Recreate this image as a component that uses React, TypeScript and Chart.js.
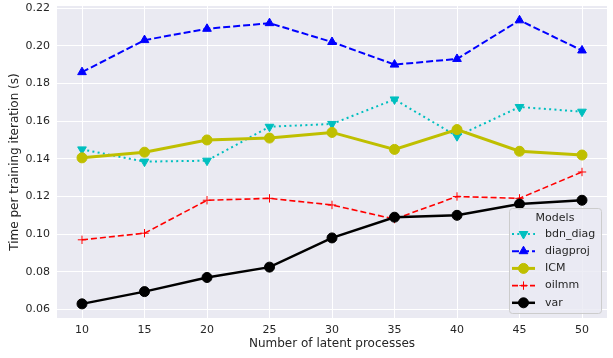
import React, { useEffect, useRef } from "react";
import { Chart, registerables } from "chart.js";

Chart.register(...registerables);

const latentProcesses = [10, 15, 20, 25, 30, 35, 40, 45, 50];
const bdnDiag = [0.145, 0.1385, 0.139, 0.157, 0.1585, 0.1715, 0.152, 0.1675, 0.165];
const diagproj = [0.186, 0.203, 0.209, 0.212, 0.202, 0.190, 0.193, 0.2135, 0.1975];
const icm = [0.1405, 0.1435, 0.150, 0.151, 0.154, 0.145, 0.1555, 0.144, 0.142];
const oilmm = [0.097, 0.1005, 0.118, 0.119, 0.1155, 0.108, 0.120, 0.119, 0.133];
const varModel = [0.063, 0.0695, 0.077, 0.0825, 0.098, 0.109, 0.110, 0.116, 0.118];

const xTicks = [10, 15, 20, 25, 30, 35, 40, 45, 50];
const yTicks = [0.06, 0.08, 0.1, 0.12, 0.14, 0.16, 0.18, 0.2, 0.22];

const legendTitle = "Models";
const xTitle = "Number of latent processes";
const yTitle = "Time per training iteration (s)";

const TEXT = "#262626";
const FONT = "DejaVu Sans";

type Spec = {
  label: string;
  data: number[];
  color: string;
  dash: number[];
  width: number;
  style: string;
  radius: number;
  rotation: number;
};

const specs: Spec[] = [
  { label: "bdn_diag", data: bdnDiag, color: "#00BFBF", dash: [2, 3.3], width: 2, style: "triangle", radius: 5, rotation: 180 },
  { label: "diagproj", data: diagproj, color: "#0000FF", dash: [7, 3], width: 2, style: "triangle", radius: 5, rotation: 0 },
  { label: "ICM", data: icm, color: "#BFBF00", dash: [], width: 3, style: "circle", radius: 5, rotation: 0 },
  { label: "oilmm", data: oilmm, color: "#FF0000", dash: [6, 3], width: 1.6, style: "cross", radius: 4.2, rotation: 0 },
  { label: "var", data: varModel, color: "#000000", dash: [], width: 2.5, style: "circle", radius: 5, rotation: 0 },
];

function drawMarker(ctx: CanvasRenderingContext2D, s: Spec, x: number, y: number) {
  ctx.save();
  ctx.fillStyle = s.color;
  ctx.strokeStyle = s.color;
  ctx.setLineDash([]);
  ctx.lineWidth = 1;
  const r = s.radius;
  ctx.beginPath();
  if (s.style === "circle") {
    ctx.arc(x, y, r, 0, Math.PI * 2);
    ctx.fill();
    ctx.stroke();
  } else if (s.style === "triangle") {
    let rad = (s.rotation * Math.PI) / 180;
    ctx.moveTo(x + Math.sin(rad) * r, y - Math.cos(rad) * r);
    rad += (2 * Math.PI) / 3;
    ctx.lineTo(x + Math.sin(rad) * r, y - Math.cos(rad) * r);
    rad += (2 * Math.PI) / 3;
    ctx.lineTo(x + Math.sin(rad) * r, y - Math.cos(rad) * r);
    ctx.closePath();
    ctx.fill();
    ctx.stroke();
  } else if (s.style === "cross") {
    ctx.moveTo(x - r, y);
    ctx.lineTo(x + r, y);
    ctx.moveTo(x, y - r);
    ctx.lineTo(x, y + r);
    ctx.stroke();
  }
  ctx.restore();
}

const bgPlugin = {
  id: "bgPlugin",
  beforeDraw(chart: any) {
    const { ctx, chartArea, width, height } = chart;
    ctx.save();
    ctx.fillStyle = "#FFFFFF";
    ctx.fillRect(0, 0, width, height);
    ctx.fillStyle = "#EAEAF2";
    ctx.fillRect(chartArea.left, chartArea.top, chartArea.right - chartArea.left, chartArea.bottom - chartArea.top);
    ctx.restore();
  },
};

const legendPlugin = {
  id: "innerLegend",
  afterDraw(chart: any) {
    const { ctx, chartArea } = chart;
    const w = 92;
    const h = 105;
    const left = chartArea.right - 6 - w;
    const top = chartArea.bottom - 5 - h;
    ctx.save();
    ctx.beginPath();
    if (ctx.roundRect) ctx.roundRect(left + 0.5, top + 0.5, w, h, 3);
    else ctx.rect(left + 0.5, top + 0.5, w, h);
    ctx.fillStyle = "rgba(234,234,242,0.8)";
    ctx.fill();
    ctx.strokeStyle = "#CCCCCC";
    ctx.lineWidth = 1;
    ctx.stroke();
    ctx.font = `11px "${FONT}"`;
    ctx.fillStyle = TEXT;
    ctx.textAlign = "center";
    ctx.textBaseline = "middle";
    ctx.fillText(legendTitle, left + w / 2, top + 10);
    specs.forEach((s, i) => {
      const y = top + 26 + i * 17.2;
      ctx.save();
      ctx.strokeStyle = s.color;
      ctx.lineWidth = s.width;
      ctx.setLineDash(s.dash);
      ctx.beginPath();
      ctx.moveTo(left + 3, y);
      ctx.lineTo(left + 26, y);
      ctx.stroke();
      ctx.restore();
      drawMarker(ctx, s, left + 14.5, y);
      ctx.fillStyle = TEXT;
      ctx.textAlign = "left";
      ctx.fillText(s.label, left + 36, y);
    });
    ctx.restore();
  },
};

export default function App() {
  const ref = useRef<HTMLCanvasElement>(null);
  useEffect(() => {
    if (!ref.current) return;
    Chart.defaults.font.family = FONT;
    const n = specs.length;
    const chart = new Chart(ref.current, {
      type: "line",
      data: {
        datasets: specs.map((s, i) => ({
          label: s.label,
          data: s.data.map((v, j) => ({ x: latentProcesses[j], y: v })),
          borderColor: s.color,
          backgroundColor: s.color,
          borderWidth: s.width,
          borderDash: s.dash,
          pointStyle: s.style as any,
          pointRadius: s.radius,
          pointRotation: s.rotation,
          pointBorderWidth: 1,
          pointBackgroundColor: s.color,
          pointBorderColor: s.color,
          tension: 0,
          fill: false,
          order: n - 1 - i,
        })),
      },
      options: {
        animation: false,
        responsive: true,
        maintainAspectRatio: false,
        layout: { padding: { top: 4, right: 3, left: 0, bottom: 0 } },
        plugins: {
          legend: { display: false },
          tooltip: { enabled: false },
        },
        scales: {
          x: {
            type: "linear",
            min: 8,
            max: 52,
            afterBuildTicks: (scale: any) => {
              scale.ticks = xTicks.map((v) => ({ value: v }));
            },
            afterFit: (scale: any) => {
              scale.height = 40;
              scale.paddingLeft = 0;
              scale.paddingRight = 0;
              scale.paddingTop = 0;
              scale.paddingBottom = 0;
            },
            grid: { color: "#FFFFFF", lineWidth: 1, drawTicks: false },
            border: { display: false },
            ticks: { color: TEXT, font: { size: 11 }, padding: 6, autoSkip: false, maxRotation: 0, callback: (v: any) => String(v) },
            title: { display: true, text: xTitle, color: TEXT, font: { size: 12 }, padding: { top: 0, bottom: 6.5 } },
          },
          y: {
            type: "linear",
            min: 0.0555,
            max: 0.2211,
            afterBuildTicks: (scale: any) => {
              scale.ticks = yTicks.map((v) => ({ value: v }));
            },
            afterFit: (scale: any) => {
              scale.width = 57;
              scale.paddingLeft = 0;
              scale.paddingRight = 0;
              scale.paddingTop = 0;
              scale.paddingBottom = 0;
            },
            grid: { color: "#FFFFFF", lineWidth: 1, drawTicks: false },
            border: { display: false },
            ticks: { color: TEXT, font: { size: 11 }, padding: 7, autoSkip: false, callback: (v: any) => Number(v).toFixed(2) },
            title: { display: true, text: yTitle, color: TEXT, font: { size: 12 }, padding: { top: 8, bottom: 0 } },
          },
        },
      },
      plugins: [bgPlugin, legendPlugin],
    });
    return () => chart.destroy();
  }, []);
  return (
    <div style={{ position: "fixed", left: 0, top: 0, width: 613, height: 358 }}>
      <canvas ref={ref} />
    </div>
  );
}
